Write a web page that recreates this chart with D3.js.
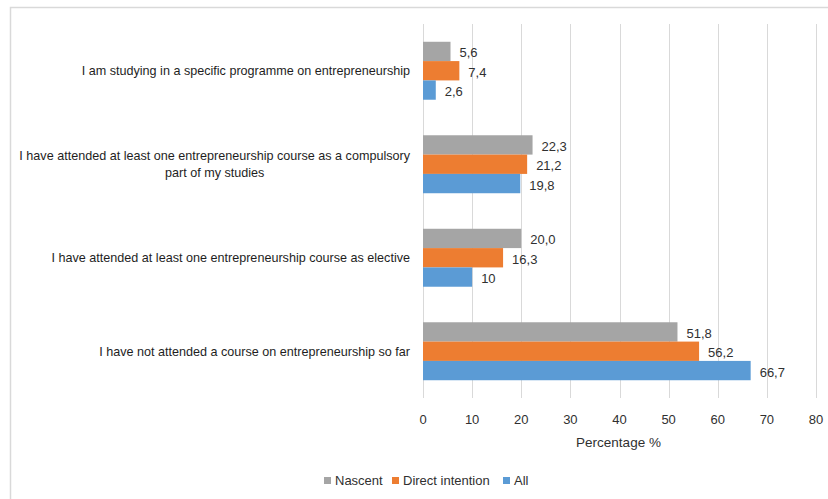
<!DOCTYPE html>
<html>
<head>
<meta charset="utf-8">
<script src="https://cdn.jsdelivr.net/npm/d3@7"></script>
<style>
  html, body { margin: 0; padding: 0; background: #fff; }
  svg { display: block; }
  text { font-family: "Liberation Sans", Arial, sans-serif; }
</style>
</head>
<body>
<svg id="chart" width="828" height="499"></svg>
<script>
// ---- data ----
const categories = [
  ["I am studying in a specific programme on entrepreneurship"],
  ["I have attended at least one entrepreneurship course as a compulsory", "part of my studies"],
  ["I have attended at least one entrepreneurship course as elective"],
  ["I have not attended a course on entrepreneurship so far"]
];
const seriesNames = ["Nascent", "Direct intention", "All"];
const seriesColors = ["#A5A5A5", "#ED7D31", "#5B9BD5"];
const nascent = [5.6, 22.3, 20.0, 51.8];
const directIntention = [7.4, 21.2, 16.3, 56.2];
const all = [2.6, 19.8, 10, 66.7];
const nascentLabels = ["5,6", "22,3", "20,0", "51,8"];
const directLabels = ["7,4", "21,2", "16,3", "56,2"];
const allLabels = ["2,6", "19,8", "10", "66,7"];
const xTicks = [0, 10, 20, 30, 40, 50, 60, 70, 80];
const xTitle = "Percentage %";

const seriesValues = [nascent, directIntention, all];
const seriesLabels = [nascentLabels, directLabels, allLabels];

// ---- layout ----
const svg = d3.select("#chart");
const W = 828, H = 499;
const plot = { left: 423, right: 816, top: 24, bottom: 398 };

// outer border
svg.append("rect")
  .attr("x", 10.5).attr("y", 7.5)
  .attr("width", W).attr("height", H)
  .attr("fill", "none").attr("stroke", "#D9D9D9").attr("stroke-width", 1.5);

const catIdx = categories.map((d, i) => i);
const x = d3.scaleLinear().domain([0, 80]).range([plot.left, plot.right]);
const y = d3.scaleBand().domain(catIdx).range([plot.top, plot.bottom])
  .paddingInner(0.38).paddingOuter(0.19);
const ySub = d3.scaleBand().domain(seriesNames).range([0, y.bandwidth()]);

// gridlines
svg.append("g").selectAll("line").data(xTicks).join("line")
  .attr("x1", d => Math.round(x(d)) + 0.5).attr("x2", d => Math.round(x(d)) + 0.5)
  .attr("y1", plot.top).attr("y2", plot.bottom)
  .attr("stroke", "#D9D9D9").attr("stroke-width", 1);

// bars
const groups = svg.append("g").selectAll("g").data(catIdx).join("g")
  .attr("transform", d => `translate(0,${y(d)})`);

seriesNames.forEach((s, si) => {
  groups.append("rect")
    .attr("x", x(0))
    .attr("y", ySub(s))
    .attr("width", d => x(seriesValues[si][d]) - x(0))
    .attr("height", ySub.bandwidth())
    .attr("fill", seriesColors[si]);
  groups.append("text")
    .attr("x", d => x(seriesValues[si][d]) + 9)
    .attr("y", ySub(s) + ySub.bandwidth() / 2 + 1.5)
    .attr("dy", "0.35em")
    .attr("font-size", 13)
    .attr("fill", "#303030")
    .text(d => seriesLabels[si][d]);
});

// category labels
const labelRight = 410;
const catG = svg.append("g");
catIdx.forEach(i => {
  const lines = categories[i];
  const cy = y(i) + y.bandwidth() / 2;
  const lh = 16.5;
  const first = catG.append("text")
    .attr("x", labelRight)
    .attr("y", cy - (lines.length - 1) * lh / 2)
    .attr("dy", "0.35em")
    .attr("text-anchor", "end")
    .attr("font-size", 12.6)
    .attr("fill", "#1E1E1E")
    .text(lines[0]);
  if (lines.length > 1) {
    const w = first.node().getComputedTextLength();
    for (let k = 1; k < lines.length; k++) {
      catG.append("text")
        .attr("x", labelRight - w / 2)
        .attr("y", cy - (lines.length - 1) * lh / 2 + k * lh)
        .attr("dy", "0.35em")
        .attr("text-anchor", "middle")
        .attr("font-size", 12.6)
        .attr("fill", "#1E1E1E")
        .text(lines[k]);
    }
  }
});

// x axis tick labels
svg.append("g").selectAll("text").data(xTicks).join("text")
  .attr("x", d => x(d)).attr("y", 419).attr("dy", "0.35em")
  .attr("text-anchor", "middle").attr("font-size", 13).attr("fill", "#303030")
  .text(d => d);

// x axis title
svg.append("text")
  .attr("x", (plot.left + plot.right) / 2 - 1).attr("y", 442).attr("dy", "0.35em")
  .attr("text-anchor", "middle").attr("font-size", 13.5).attr("fill", "#303030")
  .text(xTitle);

// legend
const legendX = [324, 392, 503];
const legend = svg.append("g");
seriesNames.forEach((s, i) => {
  legend.append("rect")
    .attr("x", legendX[i]).attr("y", 477)
    .attr("width", 7).attr("height", 7)
    .attr("fill", seriesColors[i]);
  legend.append("text")
    .attr("x", legendX[i] + 11).attr("y", 480.5).attr("dy", "0.35em")
    .attr("font-size", 13).attr("fill", "#303030")
    .text(s);
});
</script>
</body>
</html>
